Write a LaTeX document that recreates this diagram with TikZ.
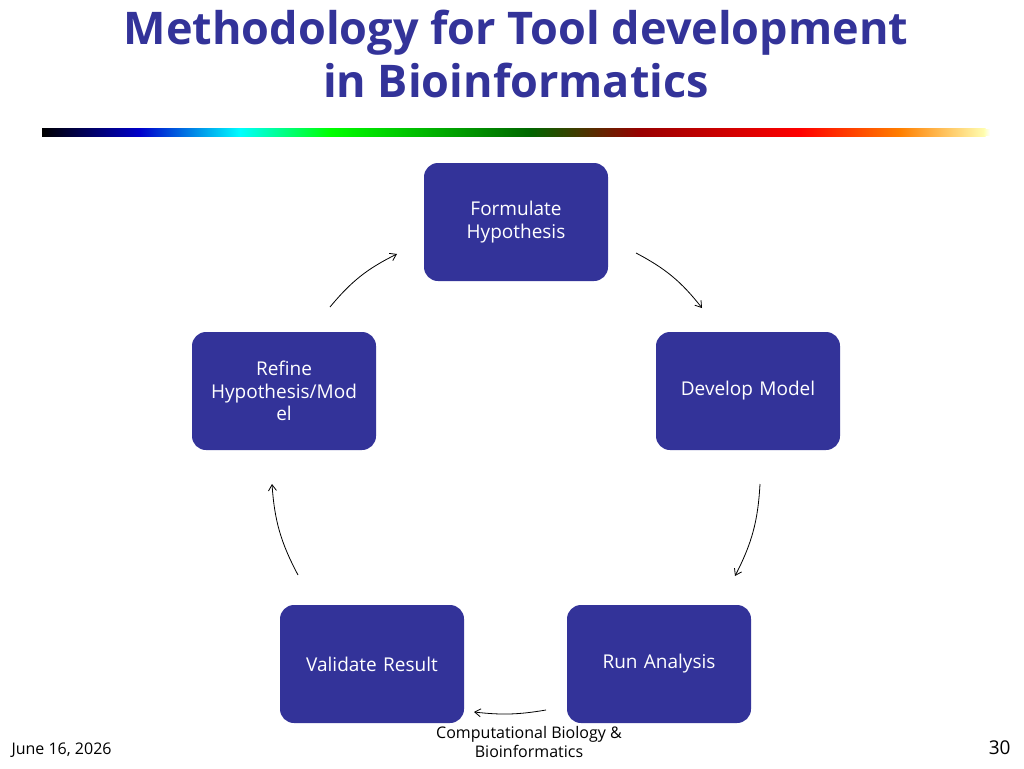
\documentclass[tikz,border=0pt]{standalone}
\usepackage{fontspec}
\setmainfont{Open Sans}
\usetikzlibrary{arrows.meta}
\definecolor{nv}{HTML}{333399}
\begin{document}
\begin{tikzpicture}[x=1pt,y=-1pt,
 box/.style={fill=nv,rounded corners=14pt,minimum width=184pt,minimum height=118pt,text=white,align=center,font=\fontsize{19}{22.5}\selectfont,text width=172pt,inner sep=0pt},
 arr/.style={-{Straight Barb[length=6pt,width=8pt]},line width=0.8pt}]
\useasboundingbox (0,0) rectangle (1024,768);
\node[font=\bfseries\fontsize{45}{53}\selectfont,text=nv,align=center] (title) at (516,54) {Methodology for Tool development\\in Bioinformatics};
% gradient bar
\foreach \a/\b/\ca/\cb in {42/140/black/blue!80!black,140/240/blue!80!black/cyan,240/330/cyan/green,330/530/green/green!40!black,530/640/green!40!black/red!60!black,640/800/red!60!black/red,800/900/red/orange,900/985/orange/yellow!30}
 \shade[left color=\ca,right color=\cb] (\a,128) rectangle (\b+0.5,136);
\shade[left color=yellow!30,right color=white] (984,129) rectangle (990,135);
\node[box] (f) at (516,222) {Formulate\\Hypothesis};
\node[box] (d) at (748,391) {Develop Model};
\node[box] (r) at (659,664) {Run Analysis};
\node[box] (v) at (372,664) {Validate Result};
\node[box] (h) at (284,391) {Refine\\Hypothesis/Mod\\el};
\coordinate (a1) at (636,253); \coordinate (b1) at (702,308);
\coordinate (a2) at (760,484); \coordinate (b2) at (735,576);
\coordinate (a3) at (546,710); \coordinate (b3) at (474,712);
\coordinate (a4) at (298,575); \coordinate (b4) at (272,484);
\coordinate (a5) at (330,307); \coordinate (b5) at (397,254);
\draw[arr] (a1) to[bend left=12] (b1);
\draw[arr] (a2) to[bend left=12] (b2);
\draw[arr] (a3) to[bend left=8] (b3);
\draw[arr] (a4) to[bend left=12] (b4);
\draw[arr] (a5) to[bend left=12] (b5);
\node[anchor=west,font=\fontsize{16}{19}\selectfont] (date) at (8,750) {June 16, 2026};
\node[align=center,font=\fontsize{16}{19}\selectfont] (foot) at (529,742) {Computational Biology \&\\Bioinformatics};
\node[anchor=east,font=\fontsize{19}{22}\selectfont] (num) at (1014,748) {30};
\end{tikzpicture}
\end{document}
